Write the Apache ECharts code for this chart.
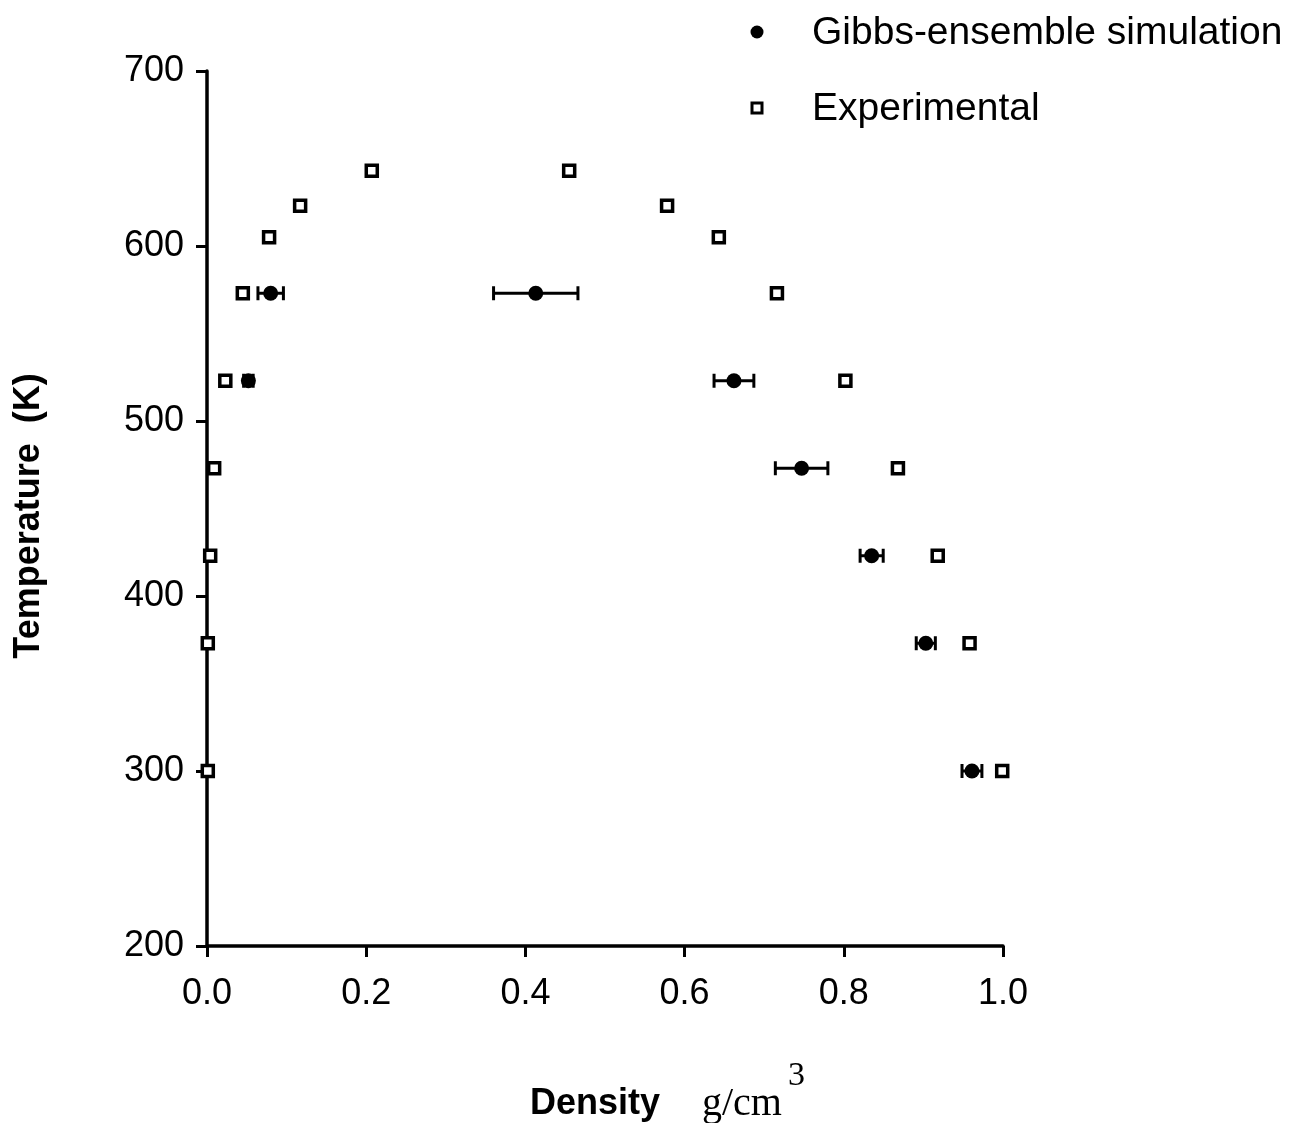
<!DOCTYPE html>
<html>
<head>
<meta charset="utf-8">
<script src="https://cdn.jsdelivr.net/npm/echarts@6/dist/echarts.min.js"></script>
<style>html,body{margin:0;padding:0;background:#fff}#c{width:1301px;height:1123px}</style>
</head>
<body>
<div id="c"></div>
<script>
// Experimental coexistence densities (g/cm3) and temperatures (K)
const expDensity = [0.001, 0.001, 0.004, 0.009, 0.023, 0.045, 0.078, 0.117, 0.207,
                    0.455, 0.578, 0.643, 0.716, 0.802, 0.868, 0.918, 0.958, 0.999];
const expTemp    = [300, 373, 423, 473, 523, 573, 605, 623, 643,
                    643, 623, 605, 573, 523, 473, 423, 373, 300];
// Gibbs-ensemble simulation
const simDensity = [0.080, 0.052, 0.413, 0.662, 0.747, 0.835, 0.903, 0.961];
const simTemp    = [573, 523, 573, 523, 473, 423, 373, 300];
const simErr     = [0.016, 0.006, 0.053, 0.025, 0.033, 0.0145, 0.012, 0.0125];
// Axis ticks
const xTicks = [0.0, 0.2, 0.4, 0.6, 0.8, 1.0];
const yTicks = [200, 300, 400, 500, 600, 700];

const expData = expDensity.map((d, i) => [d, expTemp[i]]);
const simData = simDensity.map((d, i) => [d, simTemp[i]]);
const errData = simDensity.map((d, i) => [d - simErr[i], d + simErr[i], simTemp[i]]);

const chart = echarts.init(document.getElementById('c'), null, {renderer: 'canvas'});
const font = '"Liberation Sans", Arial, sans-serif';
const serif = '"Liberation Serif", "Times New Roman", serif';
chart.setOption({
  backgroundColor: '#ffffff',
  animation: false,
  grid: {left: 207, right: 298, top: 71, bottom: 177},
  xAxis: {
    type: 'value', min: xTicks[0], max: xTicks[xTicks.length - 1], interval: 0.2,
    axisLine: {lineStyle: {color: '#000', width: 3.5}},
    axisTick: {length: 11, lineStyle: {color: '#000', width: 3}},
    splitLine: {show: false},
    axisLabel: {color: '#000', fontSize: 36, fontFamily: font, margin: 30,
      formatter: v => v.toFixed(1)}
  },
  yAxis: {
    type: 'value', min: yTicks[0], max: yTicks[yTicks.length - 1], interval: 100,
    axisLine: {lineStyle: {color: '#000', width: 3.5}},
    axisTick: {length: 11, lineStyle: {color: '#000', width: 3}},
    splitLine: {show: false},
    axisLabel: {color: '#000', fontSize: 36, fontFamily: font, margin: 23, padding: [6, 0, 0, 0]}
  },
  series: [
    {
      type: 'custom', name: 'err', data: errData, z: 3,
      renderItem: function (params, api) {
        const a = api.coord([api.value(0), api.value(2)]);
        const b = api.coord([api.value(1), api.value(2)]);
        const h = 7;
        const st = {stroke: '#000', lineWidth: 3};
        return {type: 'group', children: [
          {type: 'line', shape: {x1: a[0], y1: a[1], x2: b[0], y2: b[1]}, style: st},
          {type: 'line', shape: {x1: a[0], y1: a[1] - h, x2: a[0], y2: a[1] + h}, style: st},
          {type: 'line', shape: {x1: b[0], y1: b[1] - h, x2: b[0], y2: b[1] + h}, style: st}
        ]};
      }
    },
    {
      type: 'scatter', name: 'Gibbs-ensemble simulation', data: simData, z: 4,
      symbol: 'circle', symbolSize: 15,
      itemStyle: {color: '#000', opacity: 1}
    },
    {
      type: 'scatter', name: 'Experimental', data: expData, z: 5,
      symbol: 'rect', symbolSize: 11,
      itemStyle: {color: '#fff', borderColor: '#000', borderWidth: 3.5, opacity: 1}
    }
  ],
  graphic: [
    {type: 'circle', shape: {cx: 757, cy: 32, r: 6.5}, style: {fill: '#000'}},
    {type: 'text', x: 812, y: 33, style: {text: 'Gibbs-ensemble simulation', fill: '#000', font: '39px ' + font, verticalAlign: 'middle'}},
    {type: 'rect', shape: {x: 752, y: 103, width: 10, height: 10}, style: {fill: '#fff', stroke: '#000', lineWidth: 3}},
    {type: 'text', x: 812, y: 109, style: {text: 'Experimental', fill: '#000', font: '39px ' + font, verticalAlign: 'middle'}},
    {type: 'text', x: 29, y: 516, rotation: Math.PI / 2,
      style: {text: 'Temperature  (K)', fill: '#000', font: 'bold 36px ' + font, align: 'center', verticalAlign: 'middle'}},
    {type: 'text', x: 530, y: 1104,
      style: {text: 'Density', fill: '#000', font: 'bold 36px ' + font, verticalAlign: 'middle'}},
    {type: 'text', x: 702, y: 1104,
      style: {text: 'g/cm', fill: '#000', font: '40px ' + serif, verticalAlign: 'middle'}},
    {type: 'text', x: 788, y: 1076,
      style: {text: '3', fill: '#000', font: '34px ' + serif, verticalAlign: 'middle'}}
  ]
});
</script>
</body>
</html>
